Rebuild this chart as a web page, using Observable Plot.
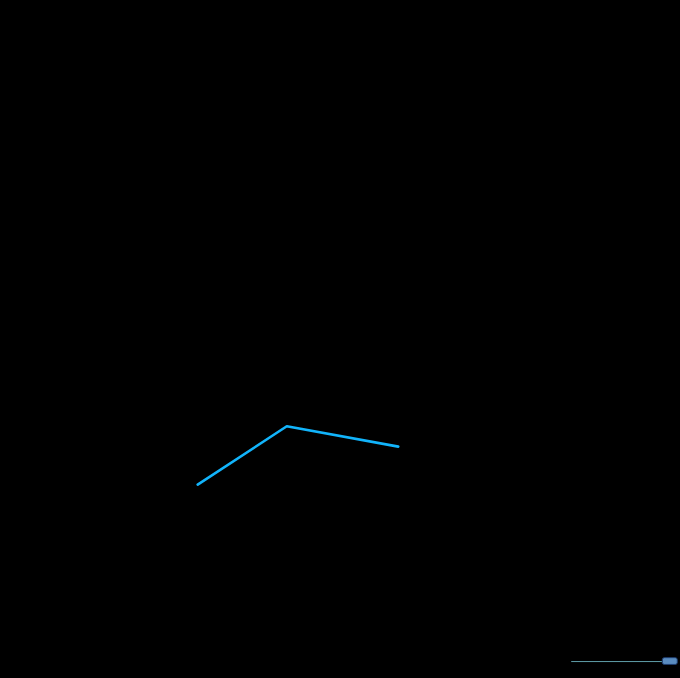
<!DOCTYPE html>
<html>
<head>
<meta charset="utf-8">
<script src="https://cdn.jsdelivr.net/npm/d3@7"></script>
<script src="https://cdn.jsdelivr.net/npm/@observablehq/plot@0.6"></script>
<style>
html, body { margin: 0; padding: 0; background: #000; }
#chart svg { display: block; background: #000; }
</style>
</head>
<body>
<div id="chart"></div>
<script>
// Series
const xs = [29.0, 42.1, 58.5];
const ys = [28.6, 37.2, 34.2];
// Bottom-right slider element
const trackX = [84.0, 97.4];
const trackY = [2.5];
const knobX = [97.4, 99.6];
const knobY = [2.0, 3.0];

const series = xs.map((x, i) => ({x, y: ys[i]}));
const track = [{x1: trackX[0], x2: trackX[1], y: trackY[0]}];
const knob = [{x1: knobX[0], x2: knobX[1], y1: knobY[0], y2: knobY[1]}];

const chart = Plot.plot({
  width: 680,
  height: 678,
  margin: 0,
  style: {background: "#000"},
  x: {domain: [0, 100], axis: null},
  y: {domain: [0, 100], axis: null},
  marks: [
    Plot.line(series, {x: "x", y: "y", stroke: "#12b4fb", strokeWidth: 2.6}),
    Plot.ruleY(track, {x1: "x1", x2: "x2", y: "y", stroke: "#5f9ea8", strokeWidth: 1}),
    Plot.rect(knob, {x1: "x1", x2: "x2", y1: "y1", y2: "y2", fill: "#5a8cc0", stroke: "#1f3d6e", strokeWidth: 1, rx: 2})
  ]
});
document.getElementById("chart").appendChild(chart);
</script>
</body>
</html>
